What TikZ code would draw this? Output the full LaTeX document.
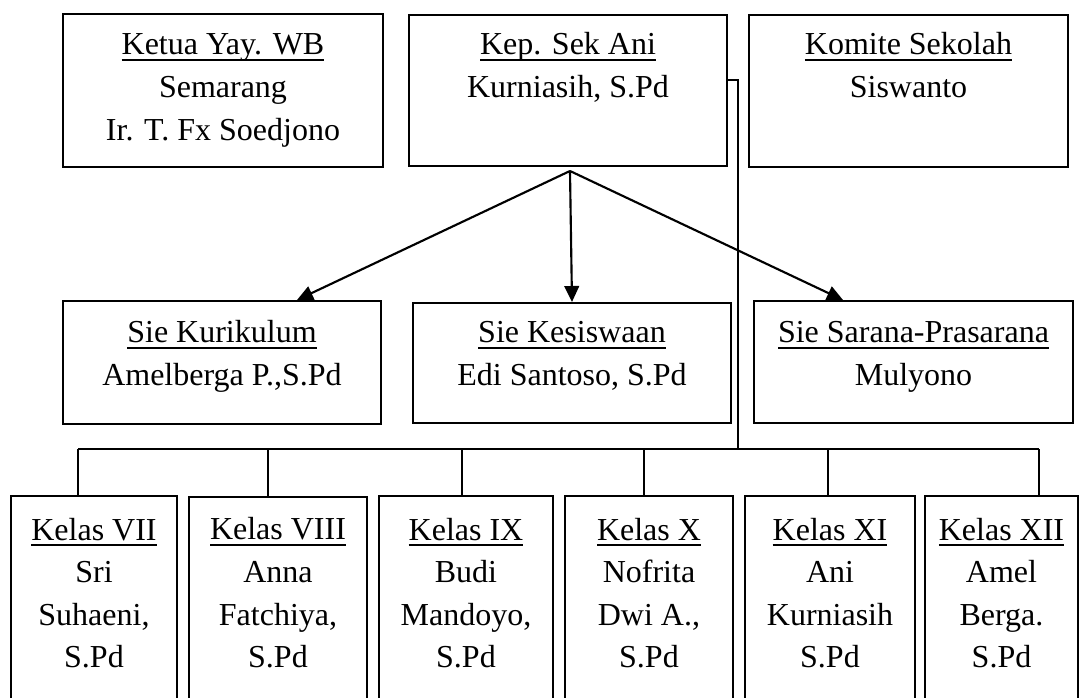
\documentclass[tikz,border=0pt]{standalone}
\usepackage{fontspec}
\setmainfont{Liberation Serif}
\usetikzlibrary{arrows.meta}

\newlength{\px}
\setlength{\px}{0.375pt}
\newsavebox{\garisbox}
\newcommand{\garis}[1]{\sbox{\garisbox}{#1}\rlap{\rule[-2.3pt]{\wd\garisbox}{0.75pt}}\usebox{\garisbox}}
\newcommand{\isi}[4]{\parbox[c][#2\px][t]{#1\px}{\centering\fontsize{12pt}{16pt}\selectfont\rule{0pt}{#3\px}#4\par}}

\tikzset{
  kotak/.style={draw, line width=0.75pt, inner sep=0pt, anchor=north west},
  garishub/.style={line width=0.6pt},
  panah/.style={line width=0.8pt, -{Triangle[length=6pt,width=5.5pt]}}
}

\begin{document}
\begin{tikzpicture}[x=0.375pt, y=-0.375pt]
\useasboundingbox (0,0) rectangle (1080,698);
\clip (0,0) rectangle (1080,698);

% Top row
\node[kotak] (yayasan) at (62,13) {\isi{320}{153}{41}{\garis{Ketua Yay. WB}\\Semarang\\Ir. T. Fx Soedjono}};
\node[kotak] (kepsek) at (408,14) {\isi{318}{151}{40}{\garis{Kep. Sek Ani}\\Kurniasih, S.Pd}};
\node[kotak] (komite) at (748,14) {\isi{319}{152}{40}{\garis{Komite Sekolah}\\Siswanto}};

% Middle row
\node[kotak] (kurikulum) at (62,300) {\isi{318}{123}{42}{\garis{Sie Kurikulum}\\Amelberga P.,S.Pd}};
\node[kotak] (kesiswaan) at (412,302) {\isi{318}{120}{40}{\garis{Sie Kesiswaan}\\Edi Santoso, S.Pd}};
\node[kotak] (sarana) at (753,300) {\isi{319}{122}{42}{\garis{Sie Sarana-Prasarana}\\Mulyono}};

% Bottom row
\node[kotak] (kelas7) at (10,495) {\isi{166}{240}{44}{\garis{Kelas VII}\\Sri\\Suhaeni,\\S.Pd}};
\node[kotak] (kelas8) at (188,496) {\isi{178}{240}{43}{\garis{Kelas VIII}\\Anna\\Fatchiya,\\S.Pd}};
\node[kotak] (kelas9) at (378,495) {\isi{174}{240}{44}{\garis{Kelas IX}\\Budi\\Mandoyo,\\S.Pd}};
\node[kotak] (kelas10) at (564,495) {\isi{168}{240}{44}{\garis{Kelas X}\\Nofrita\\Dwi A.,\\S.Pd}};
\node[kotak] (kelas11) at (744,495) {\isi{170}{240}{44}{\garis{Kelas XI}\\Ani\\Kurniasih\\S.Pd}};
\node[kotak] (kelas12) at (924,495) {\isi{153}{240}{44}{\garis{Kelas XII}\\Amel\\Berga.\\S.Pd}};

% Arrows from Kep. Sek
\coordinate (puncak) at (570,171);
\coordinate (ujungkiri) at (297,300);
\coordinate (ujungkanan) at (843,300);
\draw[panah] (puncak) -- (ujungkiri);
\draw[panah] (puncak) -- (kesiswaan.north);
\draw[panah] (puncak) -- (ujungkanan);

% Line down to the classes
\coordinate (sambung) at (738,80);
\coordinate (bus1) at (78,449);
\coordinate (bus2) at (268,449);
\coordinate (bus3) at (462,449);
\coordinate (bus4) at (644,449);
\coordinate (bus5) at (828,449);
\coordinate (bus6) at (1039,449);
\draw[garishub] (kepsek.east |- sambung) -- (sambung) -- (sambung |- bus1);
\draw[garishub] (bus1) -- (bus6);
\draw[garishub] (bus1) -- (bus1 |- kelas7.north);
\draw[garishub] (bus2) -- (bus2 |- kelas8.north);
\draw[garishub] (bus3) -- (bus3 |- kelas9.north);
\draw[garishub] (bus4) -- (bus4 |- kelas10.north);
\draw[garishub] (bus5) -- (bus5 |- kelas11.north);
\draw[garishub] (bus6) -- (bus6 |- kelas12.north);
\end{tikzpicture}
\end{document}
